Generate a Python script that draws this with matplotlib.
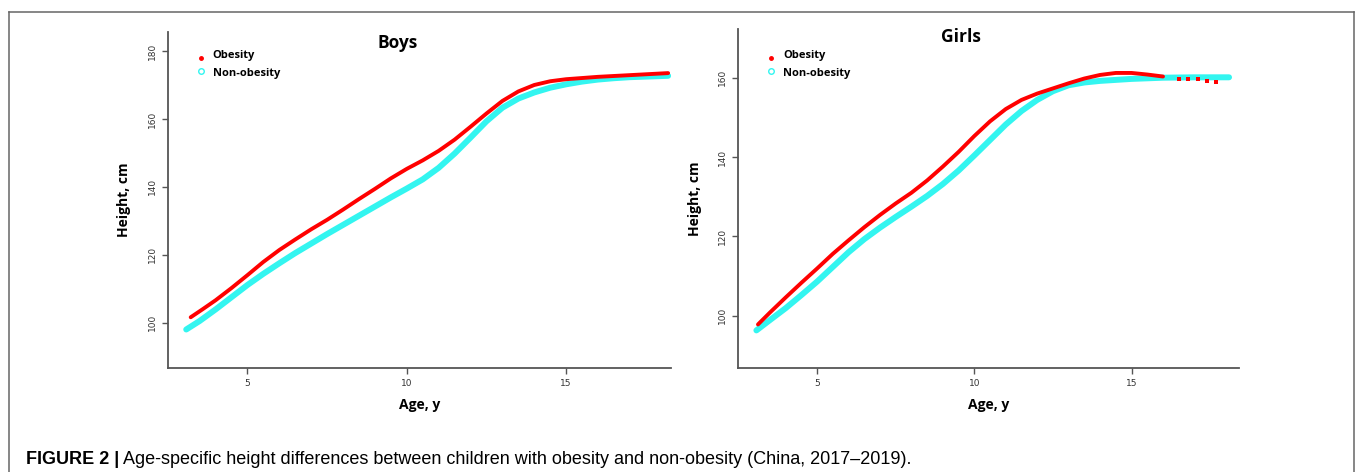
import numpy as np
import matplotlib.pyplot as plt
from matplotlib.lines import Line2D

# values
boys_age_ob = [3.22, 3.6, 4, 4.5, 5, 5.5, 6, 6.5, 7, 7.5, 8, 8.5, 9, 9.5, 10, 10.5, 11, 11.5, 12,
               12.5, 13, 13.5, 14, 14.5, 15, 16, 17, 18.2]
boys_ht_ob = [101.6, 104.0, 106.6, 110.2, 114.0, 117.9, 121.4, 124.5, 127.5, 130.3, 133.3, 136.4,
              139.4, 142.5, 145.3, 147.8, 150.6, 153.9, 157.7, 161.6, 165.3, 168.1, 170.0, 171.1,
              171.7, 172.4, 172.9, 173.5]
boys_age_non = [3.08, 3.5, 4, 4.5, 5, 5.5, 6, 6.5, 7, 7.5, 8, 8.5, 9, 9.5, 10, 10.5, 11, 11.5, 12,
                12.5, 13, 13.5, 14, 14.5, 15, 15.5, 16, 16.5, 17, 18.2]
boys_ht_non = [98.0, 100.5, 103.9, 107.5, 111.1, 114.4, 117.5, 120.5, 123.3, 126.1, 128.8, 131.5,
               134.2, 136.9, 139.5, 142.2, 145.6, 149.8, 154.5, 159.3, 163.3, 166.0, 167.8, 169.2,
               170.2, 171.0, 171.6, 172.0, 172.3, 172.7]

girls_age_ob = [3.12, 3.5, 4, 4.5, 5, 5.5, 6, 6.5, 7, 7.5, 8, 8.5, 9, 9.5, 10, 10.5, 11, 11.5, 12,
                12.5, 13, 13.5, 14, 14.5, 15, 15.5, 16, 16.5, 16.8, 17.1, 17.4, 17.7]
girls_ht_ob = [97.8, 100.8, 104.6, 108.3, 111.9, 115.6, 119.0, 122.3, 125.4, 128.3, 131.0, 134.1,
               137.6, 141.3, 145.3, 149.0, 152.1, 154.4, 156.0, 157.3, 158.6, 159.8, 160.7, 161.2,
               161.2, 160.8, 160.3, 159.8, 159.7, 159.6, 159.1, 159.0]
girls_age_non = [3.07, 3.5, 4, 4.5, 5, 5.5, 6, 6.5, 7, 7.5, 8, 8.5, 9, 9.5, 10, 10.5, 11, 11.5, 12,
                 12.5, 13, 13.5, 14, 15, 16, 17, 18.1]
girls_ht_non = [96.3, 98.9, 101.9, 105.2, 108.6, 112.3, 116.0, 119.3, 122.2, 124.9, 127.5, 130.2,
                133.2, 136.6, 140.4, 144.3, 148.2, 151.6, 154.4, 156.6, 158.1, 158.8, 159.2, 159.7,
                160.0, 160.1, 160.1]

RED = '#ff0000'
CYAN = '#33f5f0'
AX_COL = '#555555'
BOLD_FONT = ['Open Sans', 'DejaVu Sans']
W, H = 1355, 472


def fx(px):
    return px / W


def fy(py):
    return 1 - py / H


def draw_panel(ax, title, title_xy, age_ob, ht_ob, age_non, ht_non, xlim, ylim, yticks, tail_from=None):
    ax.plot(age_non, ht_non, color=CYAN, lw=4.3, solid_capstyle='round', zorder=2)
    a = np.array(age_ob)
    h = np.array(ht_ob)
    m = a <= (tail_from if tail_from is not None else 99)
    ax.plot(a[m], h[m], color=RED, lw=2.8, solid_capstyle='round', zorder=3)
    if (~m).any():
        ax.plot(a[~m], h[~m], 's', color=RED, ms=2.6, mew=0, zorder=3)

    ax.set_xlim(*xlim)
    ax.set_ylim(*ylim)
    ax.set_xticks([5, 10, 15])
    ax.set_yticks(yticks)
    for s in ['top', 'right']:
        ax.spines[s].set_visible(False)
    for s in ['left', 'bottom']:
        ax.spines[s].set_color(AX_COL)
        ax.spines[s].set_linewidth(1.3)
    ax.tick_params(direction='out', length=4, width=1, color=AX_COL,
                   labelsize=6.5, labelcolor='#333333', pad=4)
    for lab in ax.get_yticklabels():
        lab.set_rotation(90)
        lab.set_va('center')

    ax.set_xlabel('Age, y', fontsize=10, fontweight='bold', family=BOLD_FONT, labelpad=7)
    ax.set_ylabel('Height, cm', fontsize=10, fontweight='bold', family=BOLD_FONT, labelpad=12)
    fig.text(fx(title_xy[0]), fy(title_xy[1]), title, fontsize=12.5, fontweight='bold',
             family=BOLD_FONT, ha='center', va='center')


def legend_at(x, y):
    # red dot + "Obesity", cyan circle + "Non-obesity"
    fig.add_artist(Line2D([fx(x)], [fy(y + 2.5)], ls='none', marker='.', color=RED, ms=5))
    fig.add_artist(Line2D([fx(x)], [fy(y + 15)], ls='none', marker='o', mfc='none',
                          mec=CYAN, ms=4, mew=1))
    fig.text(fx(x + 12), fy(y), 'Obesity', fontsize=8, fontweight='bold',
             family=BOLD_FONT, va='center', ha='left')
    fig.text(fx(x + 12), fy(y + 18), 'Non-obesity', fontsize=8, fontweight='bold',
             family=BOLD_FONT, va='center', ha='left')


fig = plt.figure(figsize=(W / 100, H / 100), dpi=100)

ax1 = fig.add_axes([0.1238, 0.2210, 0.3714, 0.7119])
draw_panel(ax1, 'Boys', (398, 43), boys_age_ob, boys_ht_ob, boys_age_non, boys_ht_non,
           (2.50, 18.29), (86.75, 185.7), [100, 120, 140, 160, 180])
legend_at(200.5, 55.7)

ax2 = fig.add_axes([0.5450, 0.2210, 0.3697, 0.7169])
draw_panel(ax2, 'Girls', (961, 37), girls_age_ob, girls_ht_ob, girls_age_non, girls_ht_non,
           (2.50, 18.43), (86.9, 172.2), [100, 120, 140, 160], tail_from=16.0)
legend_at(771, 55.7)

# frame around the figure panel
top = fy(12)
fig.add_artist(Line2D([fx(9), fx(1354)], [top, top], color='#666666', lw=1.1))
fig.add_artist(Line2D([fx(9), fx(9)], [0, top], color='#666666', lw=1.1))
fig.add_artist(Line2D([fx(1354), fx(1354)], [0, top], color='#666666', lw=1.1))

# caption
cap_y = fy(460)
fig.text(fx(26), cap_y, 'FIGURE 2 |', fontsize=13, fontweight='bold',
         family='Liberation Sans', va='center', ha='left')
fig.text(fx(123), cap_y,
         'Age-specific height differences between children with obesity and non-obesity (China, 2017\u20132019).',
         fontsize=13, family='Liberation Sans', va='center', ha='left')

fig.savefig('out.png', dpi=100)
